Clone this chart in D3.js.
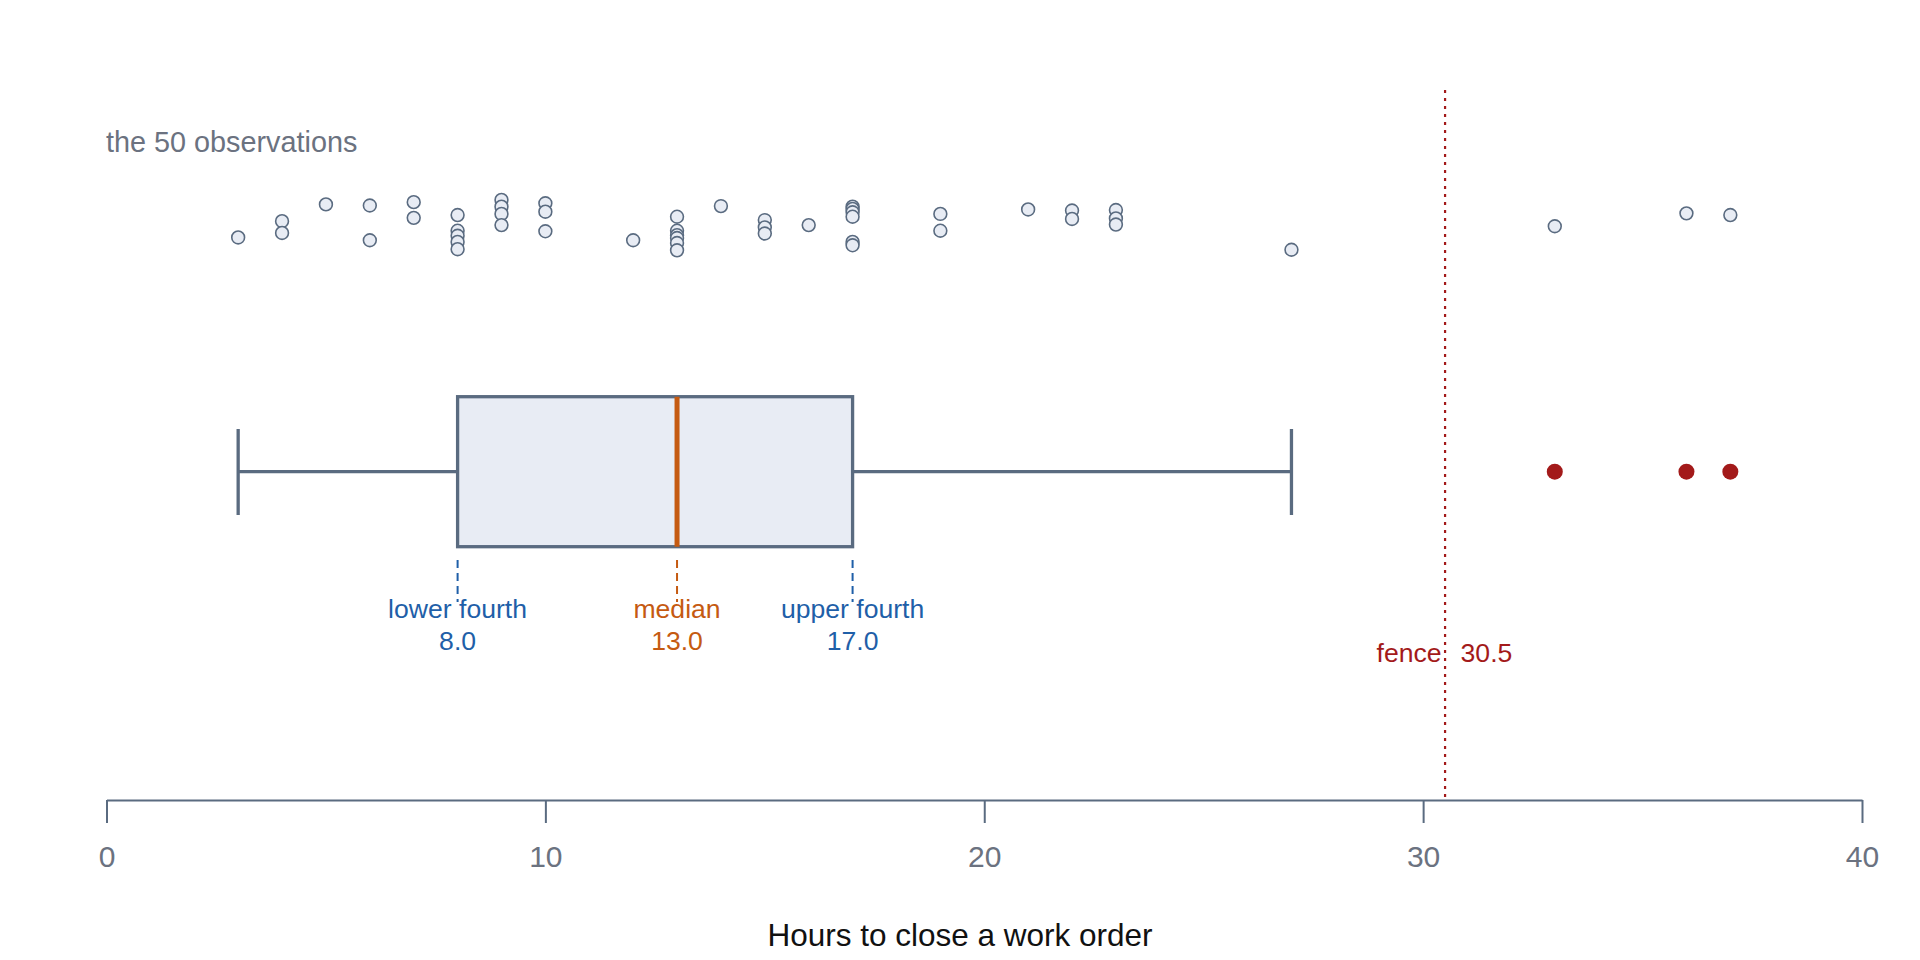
<!DOCTYPE html>
<html>
<head>
<meta charset="utf-8">
<script src="https://cdn.jsdelivr.net/npm/d3@7"></script>
<style>
  html, body { margin: 0; padding: 0; background: #fff; }
  svg { display: block; font-family: "Liberation Sans", Arial, sans-serif; }
</style>
</head>
<body>
<svg id="chart" width="1920" height="960"></svg>
<script>
// Observed hours (50 work orders)
const hours = [
  3,
  4, 4,
  5,
  6, 6,
  7, 7,
  8, 8, 8, 8, 8,
  9, 9, 9, 9,
  10, 10, 10,
  12,
  13, 13, 13, 13, 13, 13,
  14,
  15, 15, 15,
  16,
  17, 17, 17, 17, 17, 17,
  19, 19,
  21,
  22, 22,
  23, 23, 23,
  27,
  33,
  36,
  37
];
// vertical jitter of each observation in the strip (0 = top, 1 = bottom)
const jitter = [
  0.74,
  0.45, 0.66,
  0.15,
  0.17, 0.79,
  0.11, 0.39,
  0.34, 0.62, 0.71, 0.82, 0.95,
  0.07, 0.19, 0.32, 0.52,
  0.13, 0.28, 0.63,
  0.79,
  0.37, 0.62, 0.70, 0.75, 0.84, 0.97,
  0.18,
  0.43, 0.56, 0.67,
  0.52,
  0.19, 0.23, 0.29, 0.37, 0.82, 0.88,
  0.32, 0.62,
  0.24,
  0.26, 0.41,
  0.25, 0.40, 0.51,
  0.96,
  0.54,
  0.31,
  0.34
];
const xTicks = [0, 10, 20, 30, 40];
const xDomain = [0, 40];
const labels = { lower: "lower fourth", median: "median", upper: "upper fourth", fence: "fence", strip: "the 50 observations", axis: "Hours to close a work order" };

// ---- stats (Tukey fourths) ----
const sorted = hours.slice().sort((a, b) => a - b);
const n = sorted.length;
function med(arr) {
  const m = arr.length;
  return m % 2 ? arr[(m - 1) / 2] : (arr[m / 2 - 1] + arr[m / 2]) / 2;
}
const median = med(sorted);
const half = Math.ceil(n / 2);
const lowerF = med(sorted.slice(0, half));
const upperF = med(sorted.slice(n - half));
const spread = upperF - lowerF;
const upperFence = upperF + 1.5 * spread;
const lowerFence = lowerF - 1.5 * spread;
const inside = sorted.filter(v => v >= lowerFence && v <= upperFence);
const whiskLo = d3.min(inside), whiskHi = d3.max(inside);
const outliers = sorted.filter(v => v > upperFence || v < lowerFence);

// ---- layout ----
const svg = d3.select("#chart");
const x = d3.scaleLinear().domain(xDomain).range([106.5, 1862]);
const yStrip = d3.scaleLinear().domain([0, 1]).range([196, 252]);
const boxTop = 396.7, boxBot = 546.7, boxMid = 471.7;
const capTop = 429, capBot = 515;
const axisY = 800;

const slate = "#5a6b80";
const fillC = "#e8ecf4";
const blue = "#1f5fa8";
const orange = "#c55a11";
const red = "#a31a1a";
const gray = "#6b7280";

// strip label
svg.append("text").attr("x", 106).attr("y", 152)
  .attr("font-size", 28.8).attr("fill", gray).text(labels.strip);

// fence line (drawn first)
svg.append("line")
  .attr("x1", x(upperFence)).attr("x2", x(upperFence))
  .attr("y1", 90).attr("y2", axisY)
  .attr("stroke", red).attr("stroke-width", 2.2)
  .attr("stroke-dasharray", "3,5");

// strip of observations
svg.append("g").selectAll("circle").data(hours.map((h, i) => ({ h, j: jitter[i] })))
  .join("circle")
  .attr("cx", d => x(d.h)).attr("cy", d => yStrip(d.j))
  .attr("r", 6.4)
  .attr("fill", fillC).attr("stroke", slate).attr("stroke-width", 1.6);

// whiskers
const bx = svg.append("g");
bx.append("line").attr("x1", x(whiskLo)).attr("x2", x(lowerF)).attr("y1", boxMid).attr("y2", boxMid)
  .attr("stroke", slate).attr("stroke-width", 3.3);
bx.append("line").attr("x1", x(upperF)).attr("x2", x(whiskHi)).attr("y1", boxMid).attr("y2", boxMid)
  .attr("stroke", slate).attr("stroke-width", 3.3);
[whiskLo, whiskHi].forEach(v => {
  bx.append("line").attr("x1", x(v)).attr("x2", x(v)).attr("y1", capTop).attr("y2", capBot)
    .attr("stroke", slate).attr("stroke-width", 3.3);
});
// box
bx.append("rect").attr("x", x(lowerF)).attr("y", boxTop)
  .attr("width", x(upperF) - x(lowerF)).attr("height", boxBot - boxTop)
  .attr("fill", fillC).attr("stroke", slate).attr("stroke-width", 3.3);
// median
bx.append("line").attr("x1", x(median)).attr("x2", x(median)).attr("y1", boxTop).attr("y2", boxBot)
  .attr("stroke", orange).attr("stroke-width", 5);

// outliers
svg.append("g").selectAll("circle").data(outliers).join("circle")
  .attr("cx", d => x(d)).attr("cy", boxMid).attr("r", 8).attr("fill", red);

// annotation dashes and labels
const ann = [
  { v: lowerF, name: labels.lower, color: blue },
  { v: median, name: labels.median, color: orange },
  { v: upperF, name: labels.upper, color: blue }
];
ann.forEach(a => {
  svg.append("line").attr("x1", x(a.v)).attr("x2", x(a.v)).attr("y1", 560).attr("y2", 602)
    .attr("stroke", a.color).attr("stroke-width", 2).attr("stroke-dasharray", "8,5");
  svg.append("text").attr("x", x(a.v)).attr("y", 618).attr("text-anchor", "middle")
    .attr("font-size", 26.6).attr("fill", a.color).text(a.name);
  svg.append("text").attr("x", x(a.v)).attr("y", 650).attr("text-anchor", "middle")
    .attr("font-size", 26.6).attr("fill", a.color).text(a.v.toFixed(1));
});

// fence label
svg.append("text").attr("x", x(upperFence) - 3.5).attr("y", 662).attr("text-anchor", "end")
  .attr("font-size", 26.6).attr("fill", red).text(labels.fence);
svg.append("text").attr("x", x(upperFence) + 15.5).attr("y", 662).attr("text-anchor", "start")
  .attr("font-size", 26.6).attr("fill", red).text(upperFence.toFixed(1));

// axis
const axis = d3.axisBottom(x).tickValues(xTicks).tickFormat(d3.format("d"))
  .tickSize(23).tickSizeOuter(0).tickPadding(23);
const gA = svg.append("g").attr("transform", `translate(0,${axisY})`).call(axis);
gA.select(".domain").attr("stroke", slate).attr("stroke-width", 2);
gA.selectAll(".tick line").attr("stroke", slate).attr("stroke-width", 2);
gA.selectAll(".tick text").attr("font-size", 30).attr("fill", gray)
  .attr("font-family", "'Liberation Sans', Arial, sans-serif");

svg.append("text").attr("x", 960).attr("y", 946).attr("text-anchor", "middle")
  .attr("font-size", 31.5).attr("fill", "#111").text(labels.axis);
</script>
</body>
</html>
